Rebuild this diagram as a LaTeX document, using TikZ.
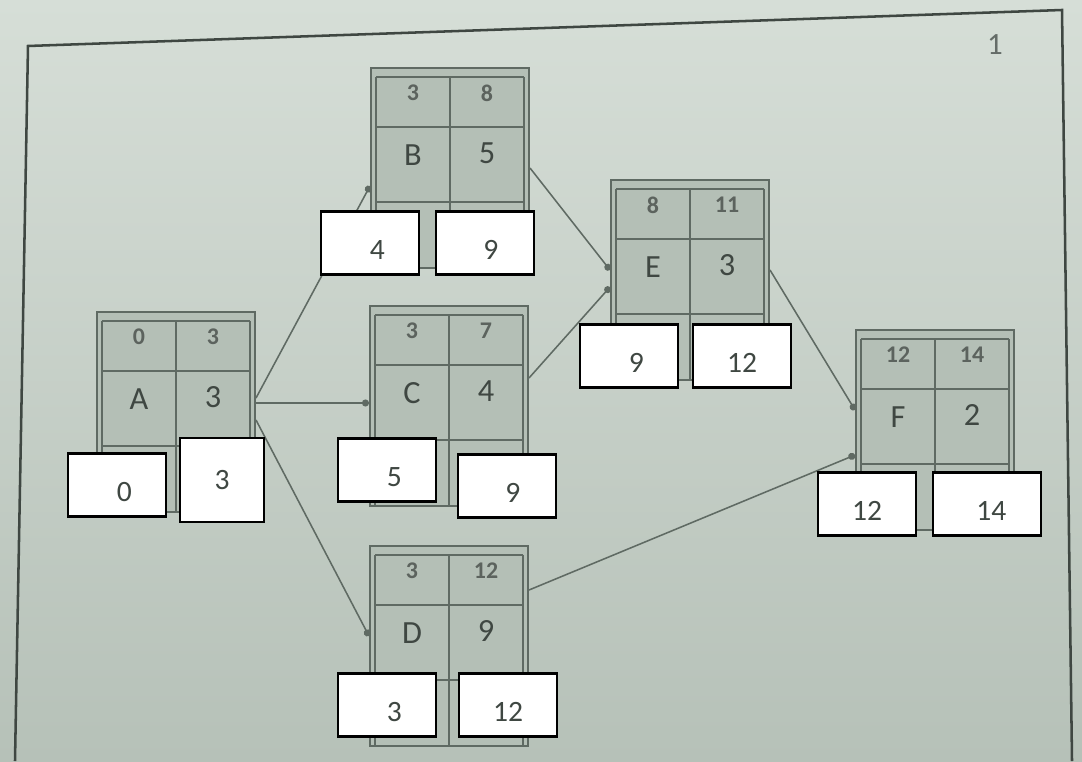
\documentclass[tikz,border=0pt]{standalone}
\usepackage{fontspec}
\setmainfont{Carlito}
\usepackage{tikz}
\usetikzlibrary{arrows.meta, positioning, calc}
\definecolor{paperlight}{HTML}{D6DED7}
\definecolor{paperdark}{HTML}{B6C1B8}
\definecolor{cellgray}{HTML}{B4BFB6}
\definecolor{gridline}{HTML}{5F6A63}
\definecolor{inkgray}{HTML}{3F4742}

% one activity box: name, position, letter, duration, top-left, top-right
\newcommand{\actbox}[6]{%
  \node[actframe] (#1) at (#2) {};
  \draw[gridpen] ([shift={(6,10)}]#1.north west) -- ([shift={(-6,10)}]#1.north east);
  \draw[gridpen] ([shift={(6,10)}]#1.north west) -- ([shift={(6,0)}]#1.south west);
  \draw[gridpen] ([shift={(-6,10)}]#1.north east) -- ([shift={(-6,0)}]#1.south east);
  \draw[gridpen] ([shift={(6,60)}]#1.north west) -- ([shift={(-6,60)}]#1.north east);
  \draw[gridpen] ([shift={(6,135)}]#1.north west) -- ([shift={(-6,135)}]#1.north east);
  \draw[gridpen] ([shift={(0,10)}]#1.north) -- (#1.south);
  \node[toplbl] at ([shift={(-37,26)}]#1.north) {#5};
  \node[toplbl] at ([shift={(37,26)}]#1.north) {#6};
  \node[cellbl] at ([shift={(-37,88)}]#1.north) {#3};
  \node[cellbl] at ([shift={(37,86)}]#1.north) {#4};
}

\begin{document}
\begin{tikzpicture}[
    x=0.025cm, y=-0.025cm,
    actframe/.style={rectangle, draw=gridline, fill=cellgray, line width=1.4pt, minimum width=3.95cm, minimum height=5cm, inner sep=0pt},
    gridpen/.style={draw=gridline, line width=1.1pt},
    toplbl/.style={font=\fontsize{17}{17}\selectfont\bfseries, text=inkgray!85},
    cellbl/.style={font=\fontsize{23}{23}\selectfont, text=inkgray},
    numbox/.style={rectangle, draw=black, fill=white, line width=1.6pt, minimum width=2.45cm, minimum height=1.58cm, text height=24pt, text depth=1pt, font=\fontsize{21}{21}\selectfont, text=inkgray},
    link/.style={-{Circle[length=5pt]}, draw=gridline, line width=1.1pt},
    frameline/.style={draw=inkgray, line width=1.8pt}
]
\useasboundingbox (0,0) rectangle (1082,761);
\shade[top color=paperlight, bottom color=paperdark] (0,0) rectangle (1082,761);

% Page frame and page number
\draw[frameline] (15,761) -- (28,46) -- (1062,10) -- (1072,761);
\node[font=\fontsize{22}{22}\selectfont, text=inkgray!80] (pagenum) at (995,45) {1};

% Activity boxes
\actbox{A}{176,412}{A}{3}{0}{3}
\actbox{B}{450,168}{B}{5}{3}{8}
\actbox{C}{449,406}{C}{4}{3}{7}
\actbox{D}{449,646}{D}{9}{3}{12}
\actbox{E}{690,280}{E}{3}{8}{11}
\actbox{F}{935,430}{F}{2}{12}{14}

% Links
\draw[link] ([shift={(0,-14)}]A.east) -- ([shift={(0,18)}]B.west);
\draw[link] ([shift={(0,-9)}]A.east) -- ([shift={(0,-3)}]C.west);
\draw[link] ([shift={(0,8)}]A.east) -- ([shift={(0,-10)}]D.west);
\draw[link] (B.east) -- ([shift={(0,-10)}]E.west);
\draw[link] ([shift={(0,-28)}]C.east) -- ([shift={(0,7)}]E.west);
\draw[link] ([shift={(0,-10)}]E.east) -- ([shift={(0,-20)}]F.west);
\draw[link] ([shift={(0,-56)}]D.east) -- ([shift={(0,25)}]F.west);

% White boxes pasted over the bottom rows
\node[numbox] (A_es) at (117,485) {\hspace*{0.5em}0};
\node[numbox, minimum width=2.1cm, minimum height=2.1cm, text height=14pt] (A_ef) at (222,480) {3};
\node[numbox] (B_es) at (370,243) {\hspace*{0.5em}4};
\node[numbox] (B_ef) at (485,243) {\hspace*{0.4em}9};
\node[numbox] (C_es) at (387,470) {\hspace*{0.5em}5};
\node[numbox] (C_ef) at (507,486) {\hspace*{0.4em}9};
\node[numbox] (D_es) at (387,705) {\hspace*{0.5em}3};
\node[numbox] (D_ef) at (508,705) {12};
\node[numbox] (E_es) at (629,356) {\hspace*{0.5em}9};
\node[numbox] (E_ef) at (742,356) {12};
\node[numbox] (F_es) at (867,504) {12};
\node[numbox, minimum width=2.7cm] (F_ef) at (987,504) {\hspace*{0.3em}14};

\end{tikzpicture}
\end{document}
